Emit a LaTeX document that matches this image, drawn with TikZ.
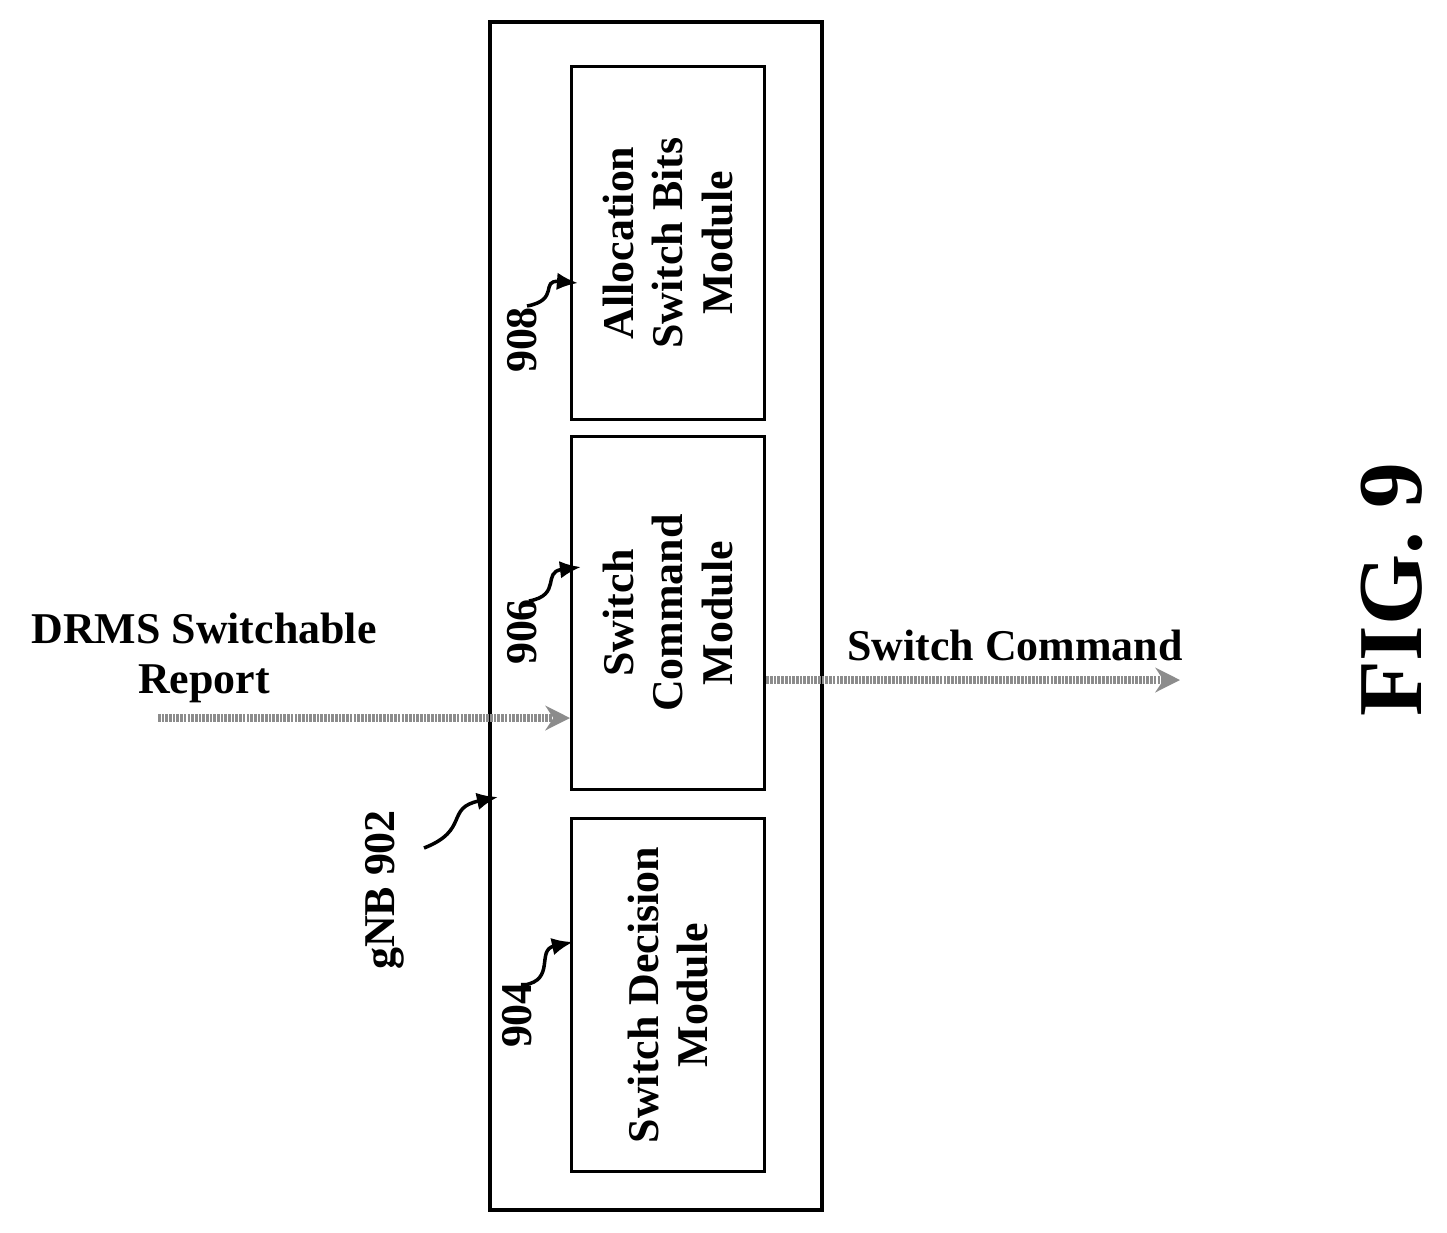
\documentclass[tikz,border=0pt]{standalone}
\usepackage{fontspec}
\setmainfont{Liberation Serif}
\usetikzlibrary{arrows.meta,positioning}

\begin{document}
\begin{tikzpicture}[x=0.02cm,y=-0.02cm,thick,font=\fontsize{25}{28}\selectfont\bfseries]
\tikzset{modul/.style={rectangle,draw=black,line width=2.2pt,minimum width=3.86cm,minimum height=7.06cm,align=center,inner sep=0pt},
         ref/.style={rotate=90,inner sep=1pt},
         zeiger/.style={-{Latex[length=12pt,width=10pt]},line width=2pt},
         signal/.style={-{Stealth[length=14pt,width=14pt]},draw=black!45,line width=5pt,dash pattern=on 1.5pt off 0.6pt}}
\useasboundingbox (0,0) rectangle (1447,1232);

\node[rectangle,draw=black,line width=2.2pt,minimum width=6.64cm,minimum height=23.76cm] (gnb) at (656,616) {};
\node[modul] (allok) at (668,243) {};
\node[modul] (befehl) at (668,613) {};
\node[modul] (entsch) at (668,995) {};
\node[rotate=90,align=center] at (allok.center) {Allocation\\Switch Bits\\Module};
\node[rotate=90,align=center] at (befehl.center) {Switch\\Command\\Module};
\node[rotate=90,align=center] at (entsch.center) {Switch Decision\\Module};

% Bezugszeichen
\node[ref] (r908) at (522,340) {908};
\node[ref] (r906) at (522,632) {906};
\node[ref] (r904) at (517,1015) {904};
\node[ref] (r902) at (385,890) {gNB 902};
\coordinate (z908) at (578,283);
\coordinate (z906) at (581,567);
\coordinate (z904) at (573,942);
\coordinate (z902) at (498,797);
\coordinate (s908) at (527,306);
\coordinate (s906) at (529,601);
\coordinate (s904) at (524,985);
\coordinate (s902) at (424,848);
\draw[zeiger] (s908) .. controls (560,300) and (540,280) .. (z908);
\draw[zeiger] (s906) .. controls (562,595) and (542,572) .. (z906);
\draw[zeiger] (s904) .. controls (556,980) and (536,950) .. (z904);
\draw[zeiger] (s902) .. controls (470,830) and (445,808) .. (z902);

% Signale
\coordinate (ein) at (158,718);
\coordinate (ein_ende) at (570,718);
\coordinate (aus) at (1180,680);
\draw[signal] (ein) -- (ein_ende);
\draw[signal] (befehl.east |- aus) -- (aus);
\node[align=center] (eintext) at (204,658) {DRMS Switchable\\Report};
\node (austext) at (1015,645) {Switch Command};

\node[rotate=90,font=\fontsize{52}{56}\selectfont\bfseries] (fig) at (1392,590) {FIG. 9};
\end{tikzpicture}
\end{document}
